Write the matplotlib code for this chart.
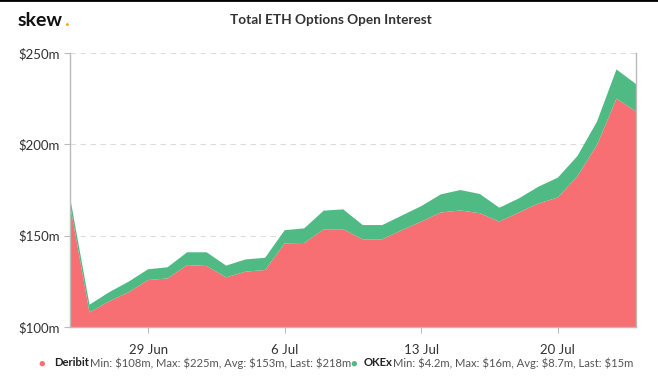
import matplotlib
matplotlib.use("Agg")
import matplotlib.pyplot as plt
import matplotlib.dates as mdates
from matplotlib.lines import Line2D
import pandas as pd

dates = pd.date_range("2020-06-25", "2020-07-24", freq="D")
deribit = [167, 108, 114, 119, 125.7, 126.6, 133.9, 133.4, 127.2, 130.3,
           131.2, 145.8, 146, 153.5, 153.5, 148, 148, 153, 157.7, 162.7,
           163.8, 162.3, 157.7, 162.7, 167.6, 170.9, 182.6, 199.6, 225, 218]
okex = [4.2, 4.2, 5, 5.8, 5.9, 6.1, 7, 7.5, 6.4, 6.7,
        6.7, 7.2, 8, 10.2, 10.9, 7.8, 7.8, 8, 8.5, 9.9,
        11.2, 10.5, 7.6, 7.7, 9.2, 10.9, 11, 12.8, 16, 15]
y_ticks = [100, 150, 200, 250]
x_ticks = ["2020-06-29", "2020-07-06", "2020-07-13", "2020-07-20"]

RED = "#f76f72"
GREEN = "#4fba84"
TEXT = "#333333"

plt.rcParams["font.family"] = ["Lato", "DejaVu Sans"]
plt.rcParams["text.parse_math"] = False

fig = plt.figure(figsize=(6.58, 3.77), dpi=100)
ax = fig.add_axes([70 / 658, 1 - 327 / 377, (636 - 70) / 658, (327 - 53) / 377])

ax.stackplot(dates, deribit, okex, colors=[RED, GREEN], linewidth=0)

ax.set_xlim(dates[0], dates[-1])
ax.set_ylim(100, 250)
ax.set_yticks(y_ticks)
ax.set_yticklabels([f"${v}m" for v in y_ticks])
ax.set_xticks(pd.to_datetime(x_ticks))
ax.xaxis.set_major_formatter(mdates.DateFormatter("%-d %b"))

ax.grid(axis="y", color="#dddddd", linestyle=(0, (5, 4)), linewidth=0.8)
ax.set_axisbelow(True)
ax.spines["top"].set_visible(False)
for side in ["left", "right", "bottom"]:
    ax.spines[side].set_color("#bbbbbb")
    ax.spines[side].set_linewidth(1)
ax.tick_params(axis="both", colors="#bbbbbb", labelcolor=TEXT, labelsize=9.5, length=4)
ax.tick_params(axis="x", pad=8)

# header
fig.text(18 / 658, 1 - 20 / 377, "skew", fontsize=14, fontweight="bold", color="#111111", va="center")
fig.text(64 / 658, 1 - 20 / 377, ".", fontsize=14, fontweight="bold", color="#f5a623", va="center")
fig.text(331 / 658, 1 - 20 / 377, "Total ETH Options Open Interest", fontsize=9.8,
         fontweight="bold", color=TEXT, ha="center", va="center")
fig.add_artist(Line2D([0, 1], [0.999, 0.999], color="black", linewidth=2, transform=fig.transFigure))

# legend row
ly = 1 - 363 / 377
fig.text(38 / 658, ly, "\u25cf", color=RED, fontsize=8, va="center")
fig.text(54 / 658, ly, "Deribit", color="#222222", fontsize=8.1, fontweight="bold", va="center")
fig.text(90 / 658, ly, "Min: $108m, Max: $225m, Avg: $153m, Last: $218m", color="#555555",
         fontsize=8.1, va="center")
fig.text(350 / 658, ly, "\u25cf", color=GREEN, fontsize=8, va="center")
fig.text(364 / 658, ly, "OKEx", color="#222222", fontsize=8.1, fontweight="bold", va="center")
fig.text(393 / 658, ly, "Min: $4.2m, Max: $16m, Avg: $8.7m, Last: $15m", color="#555555",
         fontsize=8.1, va="center")

fig.savefig("out.png", dpi=100, facecolor="white")
